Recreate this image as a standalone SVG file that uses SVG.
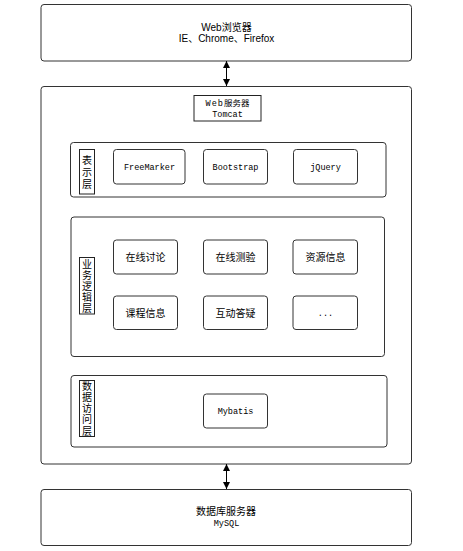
<svg xmlns="http://www.w3.org/2000/svg" width="463" height="551" viewBox="0 0 463 551">
<style>
.box{fill:#fff;stroke:#333;stroke-width:1}
.lbl{fill:#fff;stroke:#222;stroke-width:1}
.cn{font-family:"Noto Sans CJK SC","Liberation Sans",sans-serif;font-size:10px;fill:#000;text-anchor:middle}
.vt{font-family:"Noto Sans CJK SC","Liberation Sans",sans-serif;font-size:10px;fill:#000;writing-mode:vertical-rl;text-anchor:start}
.sans{font-family:"Liberation Sans","Noto Sans CJK SC",sans-serif;font-size:10px;fill:#000;text-anchor:middle}
.mono{font-family:"Liberation Mono","Noto Sans CJK SC",monospace;font-size:8.5px;fill:#000;text-anchor:middle}
.conn{stroke:#000;stroke-width:1;fill:none}
</style>
<defs>
<marker id="ah" viewBox="0 0 10 10" refX="10" refY="5" markerWidth="7" markerHeight="7" markerUnits="userSpaceOnUse" orient="auto-start-reverse">
<path d="M0,0 L10,5 L0,10 z" fill="#000"/>
</marker>
</defs>
<rect width="463" height="551" fill="#fff"/>

<g id="browser">
<rect class="box" x="41" y="4.5" width="370.5" height="56.5" rx="3"/>
<text class="sans" x="226.5" y="30.5">Web浏览器</text>
<text class="sans" x="226.5" y="41.5">IE、Chrome、Firefox</text>
</g>

<g id="webserver">
<rect class="box" x="41" y="86.5" width="370.5" height="377.5" rx="3"/>
</g>
<g id="tomcat">
<rect class="lbl" x="194" y="95.5" width="67" height="25.5"/>
<text class="mono" x="227.5" y="105.5"><tspan letter-spacing="1">Web</tspan>服务器</text>
<text class="mono" x="227.5" y="116.5">Tomcat</text>
</g>

<g id="presentation">
<rect class="box" x="70.5" y="142.5" width="315.5" height="54.5" rx="3"/>
<rect class="lbl" x="79.5" y="149.5" width="15" height="44.5"/>
<text class="vt" x="87" y="155" letter-spacing="2">表示层</text>
</g>
<g id="freemarker">
<rect class="box" x="113.5" y="149.5" width="71.5" height="34.5" rx="3"/>
<text class="mono" x="149.5" y="170">FreeMarker</text>
</g>
<g id="bootstrap">
<rect class="box" x="203.5" y="149.5" width="64" height="34.5" rx="3"/>
<text class="mono" x="235.5" y="170">Bootstrap</text>
</g>
<g id="jquery">
<rect class="box" x="293.5" y="149.5" width="64" height="34.5" rx="3"/>
<text class="mono" x="325.5" y="170">jQuery</text>
</g>

<g id="business">
<rect class="box" x="71" y="217" width="313.5" height="139.5" rx="3"/>
<rect class="lbl" x="79.5" y="257.5" width="15" height="56.5"/>
<text class="vt" x="87" y="259" letter-spacing="1">业务逻辑层</text>
</g>
<g id="online-discussion">
<rect class="box" x="113.5" y="240" width="64" height="34" rx="3"/>
<text class="cn" x="145.5" y="260.8">在线讨论</text>
</g>
<g id="online-test">
<rect class="box" x="203.5" y="240" width="64" height="34" rx="3"/>
<text class="cn" x="235.5" y="260.8">在线测验</text>
</g>
<g id="resource-info">
<rect class="box" x="293" y="240" width="64.5" height="34" rx="3"/>
<text class="cn" x="325.5" y="260.8">资源信息</text>
</g>
<g id="course-info">
<rect class="box" x="113.5" y="296" width="64" height="33.5" rx="3"/>
<text class="cn" x="145.5" y="316.8">课程信息</text>
</g>
<g id="qa">
<rect class="box" x="203.5" y="296" width="64" height="33.5" rx="3"/>
<text class="cn" x="235.5" y="316.8">互动答疑</text>
</g>
<g id="more">
<rect class="box" x="293" y="296" width="64.5" height="33.5" rx="3"/>
<text class="mono" x="325.5" y="316">...</text>
</g>

<g id="dataaccess">
<rect class="box" x="71" y="375.5" width="316" height="71.5" rx="3"/>
<rect class="lbl" x="79.5" y="380.5" width="15" height="56"/>
<text class="vt" x="87" y="381" letter-spacing="1.2">数据访问层</text>
</g>
<g id="mybatis">
<rect class="box" x="203.5" y="394" width="64" height="34" rx="3"/>
<text class="mono" x="235.5" y="414">Mybatis</text>
</g>

<g id="dbserver">
<rect class="box" x="41" y="489.5" width="370.5" height="56" rx="3"/>
<text class="cn" x="226" y="515">数据库服务器</text>
<text class="mono" x="226.5" y="526">MySQL</text>
</g>

<g id="connectors">
<line class="conn" x1="226.5" y1="61" x2="226.5" y2="86" marker-start="url(#ah)" marker-end="url(#ah)"/>
<line class="conn" x1="226.5" y1="464" x2="226.5" y2="489" marker-start="url(#ah)" marker-end="url(#ah)"/>
</g>
</svg>
